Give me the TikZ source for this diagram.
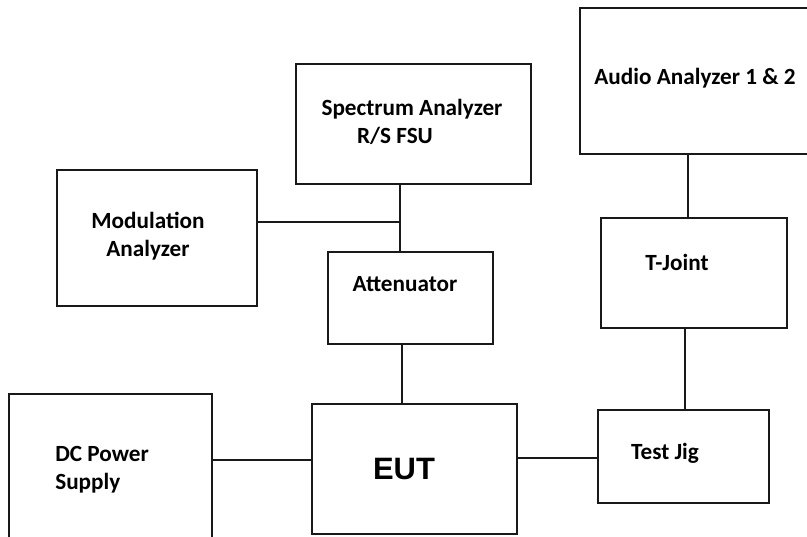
\documentclass[tikz,border=0pt]{standalone}
\usepackage{fontspec}
\setmainfont{Carlito}
\newfontfamily\eutfont{Liberation Sans}
\usepackage{tikz}

\begin{document}
\begin{tikzpicture}[
  x=0.025cm, y=-0.025cm,
  unit/.style={draw=black!90, line width=1.2pt, inner sep=0pt, fill=none},
  caption/.style={inner sep=0pt, font=\bfseries\fontsize{16.5}{20}\selectfont},
  oneline/.style={caption, text height=1.3ex, text depth=0pt},
  wire/.style={draw=black!90, line width=1pt}
]
  \clip (0,0) rectangle (807,537);

  % boxes
  \node[unit, minimum width=5.875cm, minimum height=3cm] (spectrum) at (413.5,124) {};
  \node[unit, minimum width=5.8cm, minimum height=3.65cm] (audio) at (696,81) {};
  \node[unit, minimum width=5cm, minimum height=3.4cm] (modulation) at (157,238) {};
  \node[unit, minimum width=4.125cm, minimum height=2.3cm] (attenuator) at (410.5,298) {};
  \node[unit, minimum width=4.65cm, minimum height=2.75cm] (tjoint) at (694,273) {};
  \node[unit, minimum width=5.075cm, minimum height=4.15cm] (dcsupply) at (110.5,477) {};
  \node[unit, minimum width=5.125cm, minimum height=3.25cm] (eut) at (414.5,469) {};
  \node[unit, minimum width=4.275cm, minimum height=2.325cm] (testjig) at (683.5,456.5) {};

  % texts
  \node[oneline] (spectrumtext) at (412,111) {Spectrum Analyzer};
  \node[oneline] (fsutext) at (395,139) {R/S FSU};
  \node[oneline] (audiotext) at (695,80) {Audio Analyzer 1 \& 2};
  \node[caption, align=center] (modtext) at (148,236) {Modulation\\Analyzer};
  \node[oneline] (atttext) at (405,287) {Attenuator};
  \node[oneline] (tjointtext) at (677,266) {T-Joint};
  \node[caption, align=left, anchor=west] (dctext) at (55,470) {DC Power\\Supply};
  \node[oneline] (jigtext) at (665,455) {Test Jig};
  \node[inner sep=0pt, text height=1.45ex, text depth=0pt,
        font=\eutfont\bfseries\fontsize{22}{26}\selectfont] (euttext) at (404,475) {EUT};

  % connections
  \coordinate (tap) at (400,222);
  \coordinate (atteut) at (402,374);
  \coordinate (dceut) at (262,460);
  \coordinate (eutjig) at (557,458);
  \coordinate (audiotj) at (688,186);
  \coordinate (tjjig) at (685,370);

  \draw[wire] (spectrum.south -| tap) -- (attenuator.north -| tap);
  \draw[wire] (modulation.east |- tap) -- (tap);
  \draw[wire] (attenuator.south -| atteut) -- (eut.north -| atteut);
  \draw[wire] (dcsupply.east |- dceut) -- (eut.west |- dceut);
  \draw[wire] (eut.east |- eutjig) -- (testjig.west |- eutjig);
  \draw[wire] (audio.south -| audiotj) -- (tjoint.north -| audiotj);
  \draw[wire] (tjoint.south -| tjjig) -- (testjig.north -| tjjig);
\end{tikzpicture}
\end{document}
